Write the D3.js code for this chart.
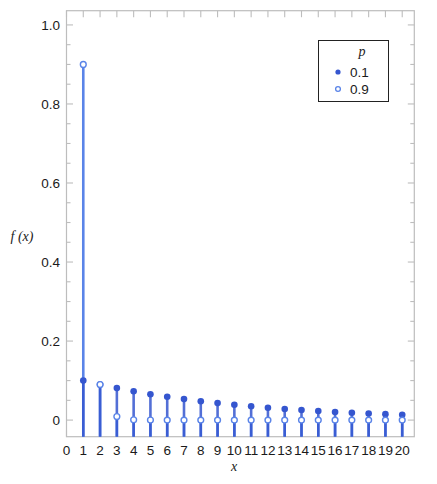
<!DOCTYPE html>
<html><head><meta charset="utf-8">
<script src="https://cdn.jsdelivr.net/npm/d3@7"></script>
<style>body{margin:0;background:#fff}</style>
</head><body>
<script>
const xs = [1,2,3,4,5,6,7,8,9,10,11,12,13,14,15,16,17,18,19,20];
const series01 = [0.1,0.09,0.081,0.0729,0.0656,0.059,0.0531,0.0478,0.043,0.0387,0.0349,0.0314,0.0282,0.0254,0.0229,0.0206,0.0185,0.0167,0.015,0.0135];
const series09 = [0.9,0.09,0.009,0.0009,0.0001,0,0,0,0,0,0,0,0,0,0,0,0,0,0,0];
const xTickLabels = [0,1,2,3,4,5,6,7,8,9,10,11,12,13,14,15,16,17,18,19,20];
const yTickLabels = [0,0.2,0.4,0.6,0.8,1.0];
const legendLabels = ["0.1","0.9"];

const W=437,H=484;
const svg=d3.select("body").append("svg").attr("width",W).attr("height",H);
const L=66.5,R=414.3,T=10.7,B=436.7;
const x=d3.scaleLinear().domain([0,20.72]).range([L,R]);
const y=d3.scaleLinear().domain([-0.042,1.036]).range([B,T]);
const frameCol="#bdbdbd";
const c1="#3556cf", c2="#5a84e8";
const labelFont="'Liberation Sans', Arial, sans-serif";

// frame
svg.append("rect").attr("x",L).attr("y",T).attr("width",R-L).attr("height",B-T)
  .attr("fill","none").attr("stroke",frameCol).attr("stroke-width",1.2);

// y ticks (major + minor) on left and right
const minorY=d3.range(0,1.0001,0.05);
minorY.forEach(v=>{
  const major=Math.abs(v*5-Math.round(v*5))<1e-6;
  const len=major?6.5:4;
  svg.append("line").attr("x1",L).attr("x2",L+len).attr("y1",y(v)).attr("y2",y(v)).attr("stroke",frameCol).attr("stroke-width",1.1);
  svg.append("line").attr("x1",R).attr("x2",R-len).attr("y1",y(v)).attr("y2",y(v)).attr("stroke",frameCol).attr("stroke-width",1.1);
});
// x ticks top/bottom
xTickLabels.forEach(v=>{
  svg.append("line").attr("x1",x(v)).attr("x2",x(v)).attr("y1",T).attr("y2",T+6.5).attr("stroke",frameCol).attr("stroke-width",1.1);
  svg.append("line").attr("x1",x(v)).attr("x2",x(v)).attr("y1",B).attr("y2",B-6.5).attr("stroke",frameCol).attr("stroke-width",1.1);
});

// tick labels
svg.append("g").selectAll("text").data(yTickLabels).join("text")
  .attr("x",60).attr("y",d=>y(d)).attr("dy","0.36em").attr("text-anchor","end")
  .attr("font-family",labelFont).attr("font-size",13.5).attr("fill","#1a1a1a")
  .text(d=>d===0?"0":d.toFixed(1));
svg.append("g").selectAll("text").data(xTickLabels).join("text")
  .attr("x",d=>x(d)).attr("y",455).attr("text-anchor","middle")
  .attr("font-family",labelFont).attr("font-size",13.5).attr("fill","#1a1a1a")
  .text(d=>d);

// axis labels
svg.append("text").attr("x",234).attr("y",471).attr("text-anchor","middle")
  .attr("font-family","'Liberation Serif', serif").attr("font-style","italic").attr("font-size",14).attr("fill","#222")
  .text("x");
svg.append("text").attr("x",22).attr("y",241).attr("text-anchor","middle")
  .attr("font-family","'Liberation Serif', serif").attr("font-style","italic").attr("font-size",14).attr("fill","#222")
  .text("f (x)");

// stems
const data09=xs.map((d,i)=>({x:d,v:series09[i]}));
const data01=xs.map((d,i)=>({x:d,v:series01[i]}));
svg.append("g").selectAll("line").data(data09).join("line")
  .attr("x1",d=>x(d.x)).attr("x2",d=>x(d.x)).attr("y1",d=>y(d.v)).attr("y2",B)
  .attr("stroke",c2).attr("stroke-width",2.6);
svg.append("g").selectAll("line").data(data01).join("line")
  .attr("x1",d=>x(d.x)).attr("x2",d=>x(d.x)).attr("y1",d=>y(d.v)).attr("y2",B)
  .attr("stroke",c1).attr("stroke-width",2.6).attr("stroke-opacity",0.85);

// points
svg.append("g").selectAll("circle").data(data01).join("circle")
  .attr("cx",d=>x(d.x)).attr("cy",d=>y(d.v)).attr("r",3.3).attr("fill",c1);
svg.append("g").selectAll("circle").data(data09).join("circle")
  .attr("cx",d=>x(d.x)).attr("cy",d=>y(d.v)).attr("r",2.9).attr("fill","#fff")
  .attr("stroke",c2).attr("stroke-width",1.4);

// legend
const lg=svg.append("g");
lg.append("rect").attr("x",318.5).attr("y",40.5).attr("width",70).attr("height",61)
  .attr("fill","#fff").attr("stroke","#222").attr("stroke-width",1);
lg.append("text").attr("x",362).attr("y",56).attr("text-anchor","middle")
  .attr("font-family","'Liberation Serif', serif").attr("font-style","italic").attr("font-size",14).attr("fill","#222").text("p");
legendLabels.forEach((t,i)=>{
  const yy=72+i*17;
  if(i===0) lg.append("circle").attr("cx",338).attr("cy",yy).attr("r",2.6).attr("fill",c1);
  else lg.append("circle").attr("cx",338).attr("cy",yy).attr("r",2.4).attr("fill","#fff").attr("stroke",c2).attr("stroke-width",1.3);
  lg.append("text").attr("x",350).attr("y",yy).attr("dy","0.36em")
    .attr("font-family",labelFont).attr("font-size",13.5).attr("fill","#1a1a1a").text(t);
});
</script>
</body></html>
